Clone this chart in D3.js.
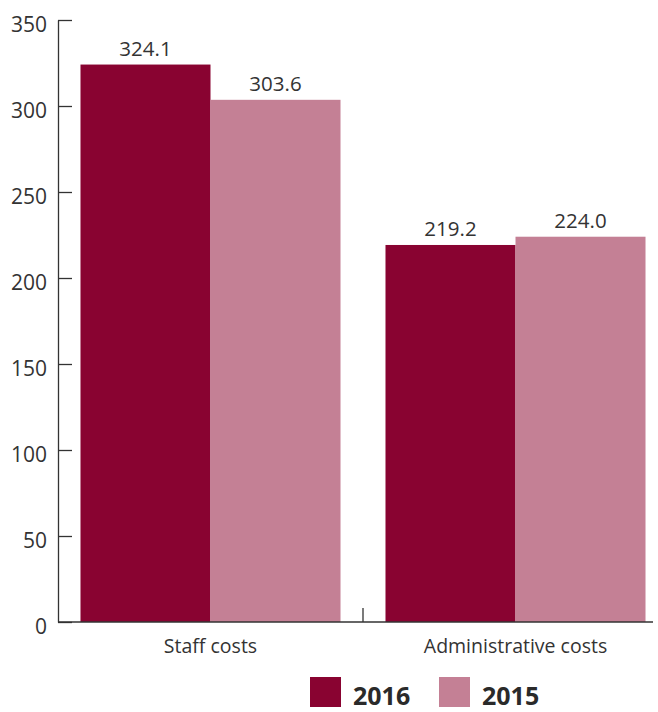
<!DOCTYPE html>
<html>
<head>
<style>
body { margin: 0; background: white; }
svg { display: block; font-family: "Open Sans", sans-serif; }
</style>
<script src="https://d3js.org/d3.v7.min.js"></script>
</head>
<body>
<svg id="chart" width="658" height="712"></svg>
<script>
const categories = ['Staff costs', 'Administrative costs'];
const years = ['2016', '2015'];
const values2016 = [324.1, 219.2];
const values2015 = [303.6, 224.0];
const yTicks = [0, 50, 100, 150, 200, 250, 300, 350];
const colors = { '2016': '#890331', '2015': '#c48095' };

const data = categories.map((c, i) => ({
  category: c,
  values: [
    { year: '2016', value: values2016[i] },
    { year: '2015', value: values2015[i] }
  ]
}));

const svg = d3.select('#chart');
const textColor = '#333333';

const y = d3.scaleLinear().domain([0, 350]).range([622, 20]);
const x0 = d3.scaleBand().domain(categories).range([58, 668]).padding(0);
const x1 = d3.scaleBand().domain(years).range([0, x0.bandwidth()])
  .paddingInner(0).paddingOuter(0.173);

// bars
const groups = svg.append('g').selectAll('g')
  .data(data).enter().append('g')
  .attr('transform', d => `translate(${x0(d.category)},0)`);

groups.selectAll('rect')
  .data(d => d.values).enter().append('rect')
  .attr('x', d => x1(d.year))
  .attr('y', d => y(d.value))
  .attr('width', x1.bandwidth())
  .attr('height', d => y(0) - y(d.value))
  .attr('fill', d => colors[d.year]);

groups.selectAll('text')
  .data(d => d.values).enter().append('text')
  .attr('x', d => x1(d.year) + x1.bandwidth() / 2)
  .attr('y', d => y(d.value) - 9)
  .attr('text-anchor', 'middle')
  .attr('font-size', 20.5)
  .attr('fill', textColor)
  .text(d => d.value.toFixed(1));

// y axis, ticks pointing inward
const yAxis = svg.append('g')
  .attr('transform', 'translate(58,0)')
  .call(d3.axisLeft(y).tickValues(yTicks).tickSize(-14).tickPadding(11).tickSizeOuter(0));
yAxis.select('.domain').attr('stroke', textColor).attr('stroke-width', 1.3);
yAxis.selectAll('.tick line').attr('stroke', textColor).attr('stroke-width', 1.3);
yAxis.selectAll('.tick text')
  .attr('font-size', 21)
  .attr('font-family', '"Open Sans", sans-serif')
  .attr('fill', textColor)
  .attr('dy', '0.55em');

// x axis
const xAxis = svg.append('g');
xAxis.append('line')
  .attr('x1', 58).attr('x2', 653)
  .attr('y1', y(0)).attr('y2', y(0))
  .attr('stroke', textColor).attr('stroke-width', 1.3);
xAxis.selectAll('line.div')
  .data(categories.slice(1)).enter().append('line')
  .attr('class', 'div')
  .attr('x1', d => x0(d)).attr('x2', d => x0(d))
  .attr('y1', y(0)).attr('y2', y(0) - 14)
  .attr('stroke', textColor).attr('stroke-width', 1.3);
xAxis.selectAll('text')
  .data(categories).enter().append('text')
  .attr('x', d => x0(d) + x0.bandwidth() / 2)
  .attr('y', 653)
  .attr('text-anchor', 'middle')
  .attr('font-size', 19.5)
  .attr('fill', textColor)
  .text(d => d);

// legend
const legendX = [310, 439];
const legend = svg.append('g').selectAll('g')
  .data(years).enter().append('g')
  .attr('transform', (d, i) => `translate(${legendX[i]},677)`);
legend.append('rect')
  .attr('width', 31).attr('height', 30)
  .attr('fill', d => colors[d]);
legend.append('text')
  .attr('x', 43).attr('y', 28)
  .attr('font-size', 25)
  .attr('font-weight', 'bold')
  .attr('fill', '#2a2a2a')
  .text(d => d);
</script>
</body>
</html>
